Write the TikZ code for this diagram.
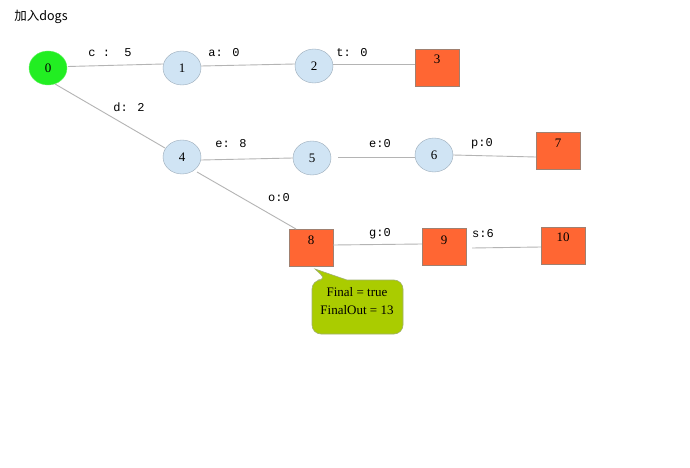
\documentclass[tikz,border=0pt]{standalone}
\usepackage{fontspec}
\setmainfont{Liberation Serif}
\newfontfamily\cjk{Noto Sans CJK SC}
\newfontfamily\lblfont{Liberation Mono}
\usetikzlibrary{shapes.geometric}
\definecolor{nodeblue}{HTML}{D0E4F4}
\definecolor{nodeborder}{HTML}{9AAAB8}
\definecolor{boxred}{HTML}{FF6633}
\definecolor{boxborder}{HTML}{A08070}
\definecolor{startgreen}{HTML}{22EE22}
\definecolor{calloutfill}{HTML}{AACC00}
\definecolor{calloutborder}{HTML}{A0B070}
\definecolor{edgegray}{HTML}{B4B4B4}
\tikzset{
  circ/.style={ellipse, draw=nodeborder, fill=nodeblue, minimum width=38pt, minimum height=34pt, inner sep=0pt, font=\fontsize{13}{14}\selectfont},
  startnode/.style={circ, fill=startgreen, draw=startgreen!70!white},
  sq/.style={rectangle, draw=boxborder, fill=boxred, minimum width=44pt, minimum height=37pt, inner sep=0pt},
  sqlabel/.style={font=\fontsize{13}{14}\selectfont, inner sep=0pt},
  edge/.style={draw=edgegray, line width=0.9pt},
  elabel/.style={font=\lblfont\fontsize{12}{14}\selectfont, inner sep=0pt},
}
\begin{document}
\begin{tikzpicture}[x=1pt,y=-1pt]
\useasboundingbox (0,0) rectangle (690,468);
\fill[white] (0,0) rectangle (690,468);
\node[font=\cjk\fontsize{12.5}{14}\selectfont, inner sep=0pt] (title) at (41,17) {加入dogs};
% circles
\node[startnode] (n0) at (48,68) {0};
\node[circ] (n1) at (182,68) {1};
\node[circ] (n2) at (314,66) {2};
\node[circ] (n4) at (182,157) {4};
\node[circ] (n5) at (312,158) {5};
\node[circ] (n6) at (434,155) {6};
% squares
\node[sq] (n3) at (437,68) {};
\node[sqlabel] at (437,59) {3};
\node[sq] (n7) at (558,151) {};
\node[sqlabel] at (558,143) {7};
\node[sq] (n8) at (311,248) {};
\node[sqlabel] at (311,240) {8};
\node[sq] (n9) at (444,247) {};
\node[sqlabel] at (444,240) {9};
\node[sq] (n10) at (563,246) {};
\node[sqlabel] at (563,237) {10};
% edges
\coordinate (e0a) at (68,66.5);
\coordinate (e1a) at (163,64);
\draw[edge] (e0a) -- (e1a);
\draw[edge] (n1.east |- 0,66) -- (n2.west |- 0,64);
\draw[edge] (n2.east |- 0,64) -- (n3.west |- 0,64);
\coordinate (e04a) at (55,84);
\coordinate (e04b) at (165,148);
\draw[edge] (e04a) -- (e04b);
\draw[edge] (n4.east |- 0,160) -- (n5.west |- 0,158);
\coordinate (e56a) at (338,157);
\draw[edge] (e56a) -- (n6.west |- 0,157);
\draw[edge] (n6.east |- 0,155) -- (n7.west |- 0,157);
\coordinate (e48a) at (197,172);
\coordinate (e48b) at (296,229);
\draw[edge] (e48a) -- (e48b);
\draw[edge] (n8.east |- 0,245) -- (n9.west |- 0,244);
\coordinate (e910a) at (472,248);
\draw[edge] (e910a) -- (n10.west |- 0,247);
% edge labels
\node[elabel] (l01) at (110,53) {c :~~5};
\node[elabel] (l12) at (224,53) {a: 0};
\node[elabel] (l23) at (352,53) {t: 0};
\node[elabel] (l04) at (129,107) {d: 2};
\node[elabel] (l45) at (231,144) {e: 8};
\node[elabel] (l56) at (380,144) {e:0};
\node[elabel] (l67) at (482,144) {p:0};
\node[elabel] (l48) at (279,198) {o:0};
\node[elabel] (l89) at (380,234) {g:0};
\node[elabel] (l910) at (483,234) {s:6};
% callout
\draw[fill=calloutfill, draw=calloutborder, line width=0.6pt]
  (312,300) [rounded corners=9pt] -- (312,280) -- (327,280) [sharp corners] -- (315,269) -- (347,280)
  [rounded corners=9pt] -- (403,280) -- (403,334) -- (312,334) -- cycle;
\node[font=\fontsize{13}{18}\selectfont, align=center, inner sep=0pt] (callout) at (357,301) {Final = true\\FinalOut = 13};
\end{tikzpicture}
\end{document}
